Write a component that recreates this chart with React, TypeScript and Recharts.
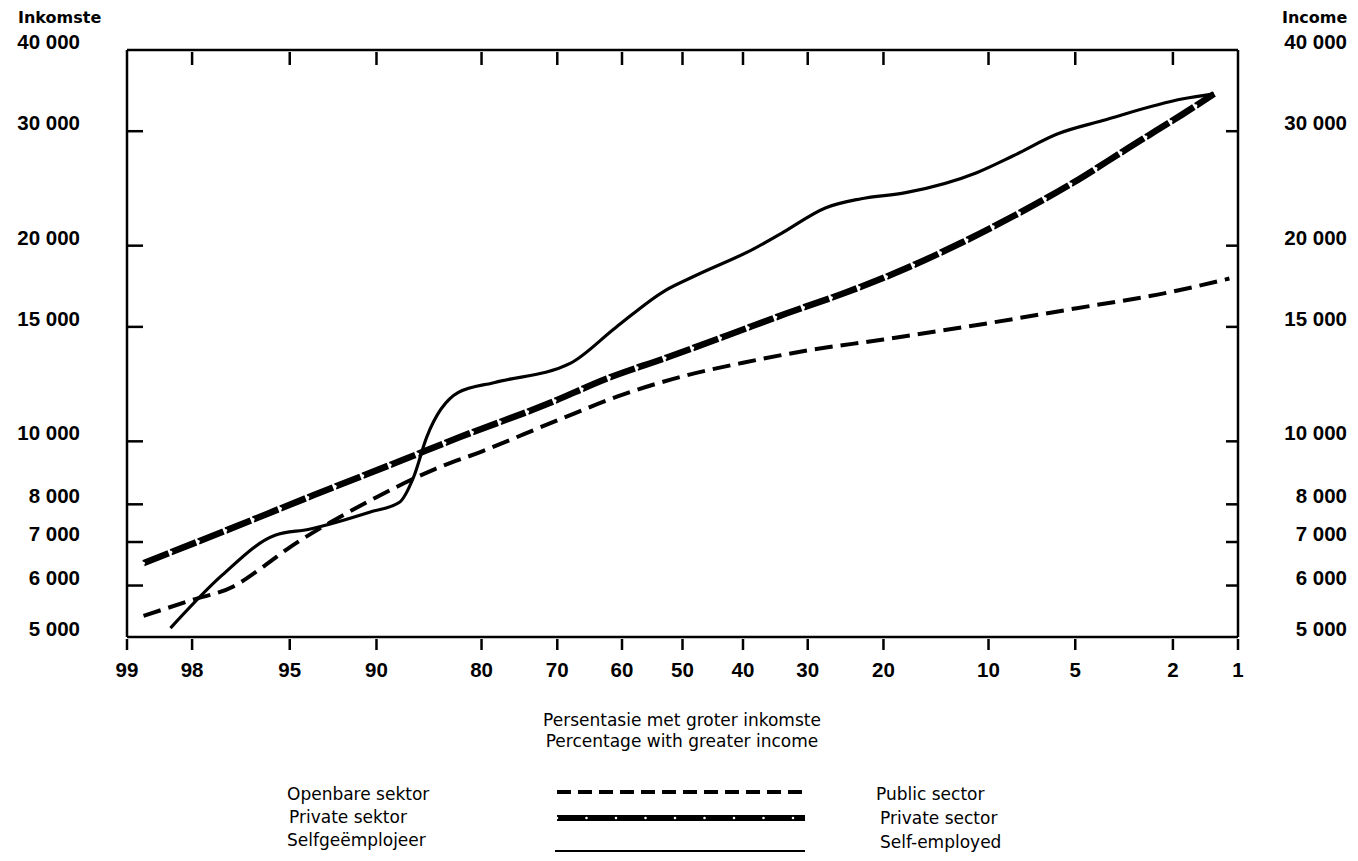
import { CartesianGrid, Line, LineChart, XAxis, YAxis } from "recharts";

// percentage with greater income (probability axis)
const xTickPct = [99, 98, 95, 90, 80, 70, 60, 50, 40, 30, 20, 10, 5, 2, 1];
const yTicks = [5000, 6000, 7000, 8000, 10000, 15000, 20000, 30000, 40000];

// Openbare sektor / Public sector
const publicPct = [98.8, 98, 97, 96, 95, 93, 90, 85, 80, 70, 60, 50, 40, 30, 20, 10, 5, 2, 1.1];
const publicIncome = [5390, 5700, 5980, 6435, 6870, 7500, 8205, 9065, 9645, 10770, 11790, 12585, 13210, 13800, 14345, 15200, 16010, 17000, 17800];

// Private sektor / Private sector
const privatePct = [98.8, 97.2, 93.9, 88.0, 82.5, 71.2, 62.4, 52.6, 42.6, 33.2, 24.7, 17.5, 12.1, 8.0, 5.1, 3.13, 2.37, 1.8, 1.3];
const privateIncome = [6495, 7295, 8260, 9350, 10145, 11440, 12495, 13460, 14550, 15725, 16940, 18440, 20225, 22400, 24990, 28190, 30040, 31900, 34240];

// Selfgeëmplojeer / Self-employed
const selfPct = [98.4, 97.3, 95.6, 94.1, 90.5, 88.2, 87.0, 85.8, 82.6, 78.4, 68.1, 61.0, 52.9, 47.8, 38.2, 34.0, 27.4, 22.7, 17.5, 10.9, 8.3, 5.8, 3.95, 1.8, 1.3];
const selfIncome = [5160, 6230, 7170, 7325, 7780, 8060, 8805, 10145, 11890, 12320, 13180, 14970, 17060, 17990, 19790, 20870, 22880, 23620, 24130, 25900, 27500, 29730, 31130, 33650, 34240];

// inverse normal cdf (Acklam)
function probit(p: number) {
  const a = [-39.69683028665376, 220.9460984245205, -275.9285104469687, 138.357751867269, -30.66479806614716, 2.506628277459239];
  const b = [-54.47609879822406, 161.5858368580409, -155.6989798598866, 66.80131188771972, -13.28068155288572];
  const c = [-0.007784894002430293, -0.3223964580411365, -2.400758277161838, -2.549732516488088, 4.374664141464968, 2.938163982698783];
  const d = [0.007784695709041462, 0.3224671290700398, 2.445134137142996, 3.754408661907416];
  const lo = 0.02425;
  if (p < lo) {
    const q = Math.sqrt(-2 * Math.log(p));
    return (((((c[0] * q + c[1]) * q + c[2]) * q + c[3]) * q + c[4]) * q + c[5]) / ((((d[0] * q + d[1]) * q + d[2]) * q + d[3]) * q + 1);
  }
  if (p > 1 - lo) return -probit(1 - p);
  const q = p - 0.5;
  const r = q * q;
  return ((((((a[0] * r + a[1]) * r + a[2]) * r + a[3]) * r + a[4]) * r + a[5]) * q) / (((((b[0] * r + b[1]) * r + b[2]) * r + b[3]) * r + b[4]) * r + 1);
}
const toZ = (pct: number) => probit(1 - pct / 100);

const xTickZ = xTickPct.map(toZ);

type Row = { z: number; pub?: number; priv?: number; self?: number };
const rows: Row[] = [
  ...publicPct.map((p, i) => ({ z: toZ(p), pub: publicIncome[i] })),
  ...privatePct.map((p, i) => ({ z: toZ(p), priv: privateIncome[i] })),
  ...selfPct.map((p, i) => ({ z: toZ(p), self: selfIncome[i] })),
].sort((r1, r2) => r1.z - r2.z);

const TICK_FONT = "'Liberation Sans', Arial, sans-serif";
const TEXT_FONT = "'DejaVu Sans', sans-serif";
const fmt = (v: number) => v.toLocaleString("en-US").replace(",", " ");

function LeftTick({ x, y, payload }: any) {
  const v = payload.value;
  const mark = v !== 5000 && v !== 40000;
  return (
    <g>
      {mark && <line x1={x} x2={x + 16} y1={y} y2={y} stroke="#000" strokeWidth={2.5} />}
      <text x={x - 47} y={y - 8 + 7} textAnchor="end" fontFamily={TICK_FONT} fontWeight={700} fontSize={20.5} fill="#000">
        {fmt(v)}
      </text>
    </g>
  );
}

function RightTick({ x, y, payload }: any) {
  const v = payload.value;
  const mark = v !== 5000 && v !== 40000;
  return (
    <g>
      {mark && <line x1={x - 12} x2={x} y1={y} y2={y} stroke="#000" strokeWidth={2.5} />}
      <text x={x + 109} y={y - 8 + 7} textAnchor="end" fontFamily={TICK_FONT} fontWeight={700} fontSize={20.5} fill="#000">
        {fmt(v)}
      </text>
    </g>
  );
}

function BottomTick({ x, y, payload }: any) {
  const i = xTickZ.findIndex((z) => Math.abs(z - payload.value) < 1e-9);
  return (
    <g>
      <line x1={x} x2={x} y1={y + 2} y2={y + 13} stroke="#000" strokeWidth={2.5} />
      <text x={x} y={y + 40} textAnchor="middle" fontFamily={TICK_FONT} fontWeight={700} fontSize={20.5} fill="#000">
        {i >= 0 ? xTickPct[i] : ""}
      </text>
    </g>
  );
}

function TopTick({ x, y }: any) {
  return <line x1={x} x2={x} y1={y + 2} y2={y + 15} stroke="#000" strokeWidth={2.5} />;
}

export default function App() {
  return (
    <div style={{ position: "absolute", left: 0, top: 0, width: 1358, height: 861, background: "#fff" }}>
      <LineChart width={1358} height={700} data={rows} margin={{ top: 49, right: 0, bottom: 0, left: 0 }}>
        <CartesianGrid stroke="none" />
        <XAxis
          xAxisId="bottom"
          dataKey="z"
          type="number"
          domain={[xTickZ[0], xTickZ[xTickZ.length - 1]]}
          ticks={xTickZ}
          interval={0}
          height={63}
          tickSize={0}
          tickMargin={0}
          tick={<BottomTick />}
          axisLine={{ stroke: "#000", strokeWidth: 2.5 }}
          allowDataOverflow
        />
        <XAxis
          xAxisId="top"
          orientation="top"
          dataKey="z"
          type="number"
          domain={[xTickZ[0], xTickZ[xTickZ.length - 1]]}
          ticks={xTickZ.slice(1, -1)}
          interval={0}
          height={1}
          tickSize={0}
          tickMargin={0}
          tick={<TopTick />}
          axisLine={{ stroke: "#000", strokeWidth: 2.5 }}
          allowDataOverflow
        />
        <YAxis
          yAxisId="left"
          scale="log"
          domain={[5000, 40000]}
          ticks={yTicks}
          interval={0}
          width={127}
          tickSize={0}
          tickMargin={0}
          tick={<LeftTick />}
          axisLine={{ stroke: "#000", strokeWidth: 2.5 }}
          allowDataOverflow
        />
        <YAxis
          yAxisId="right"
          orientation="right"
          scale="log"
          domain={[5000, 40000]}
          ticks={yTicks}
          interval={0}
          width={120}
          tickSize={0}
          tickMargin={0}
          tick={<RightTick />}
          axisLine={{ stroke: "#000", strokeWidth: 2.5 }}
          allowDataOverflow
        />
        <Line xAxisId="bottom" yAxisId="left" dataKey="pub" type="monotone" connectNulls stroke="#000" strokeWidth={4} strokeDasharray="18 8" dot={false} isAnimationActive={false} />
        <Line xAxisId="bottom" yAxisId="left" dataKey="self" type="monotone" connectNulls stroke="#000" strokeWidth={3.2} dot={false} isAnimationActive={false} />
        <Line xAxisId="bottom" yAxisId="left" dataKey="priv" type="monotone" connectNulls stroke="#000" strokeWidth={6.5} strokeDasharray="27 2.5" dot={false} isAnimationActive={false} />
        <Line xAxisId="bottom" yAxisId="left" dataKey="priv" type="monotone" connectNulls stroke="#fff" strokeWidth={3} strokeLinecap="round" strokeDasharray="0 29.5" dot={false} isAnimationActive={false} />
      </LineChart>

      <svg width={1358} height={861} style={{ position: "absolute", left: 0, top: 0, pointerEvents: "none" }}>
        <text x={18} y={23} fontFamily={TEXT_FONT} fontWeight={700} fontSize={16}>Inkomste</text>
        <text x={1282} y={23} fontFamily={TEXT_FONT} fontWeight={700} fontSize={16}>Income</text>

        <text x={682} y={726} textAnchor="middle" fontFamily={TEXT_FONT} fontSize={17}>Persentasie met groter inkomste</text>
        <text x={682} y={747} textAnchor="middle" fontFamily={TEXT_FONT} fontSize={17}>Percentage with greater income</text>

        <text x={287} y={800} fontFamily={TEXT_FONT} fontSize={17}>Openbare sektor</text>
        <text x={289} y={823} fontFamily={TEXT_FONT} fontSize={17}>Private sektor</text>
        <text x={287} y={846} fontFamily={TEXT_FONT} fontSize={17}>Selfgeëmplojeer</text>

        <line x1={557} x2={807} y1={792} y2={792} stroke="#000" strokeWidth={4} strokeDasharray="14 7" />
        <line x1={557} x2={805} y1={818} y2={818} stroke="#000" strokeWidth={6} />
        <line x1={557} x2={805} y1={818} y2={818} stroke="#fff" strokeWidth={2.6} strokeLinecap="round" strokeDasharray="0 29.5" />
        <line x1={555} x2={805} y1={851} y2={851} stroke="#000" strokeWidth={2} />

        <text x={876} y={800} fontFamily={TEXT_FONT} fontSize={17}>Public sector</text>
        <text x={880} y={824} fontFamily={TEXT_FONT} fontSize={17}>Private sector</text>
        <text x={880} y={848} fontFamily={TEXT_FONT} fontSize={17}>Self-employed</text>
      </svg>
    </div>
  );
}
